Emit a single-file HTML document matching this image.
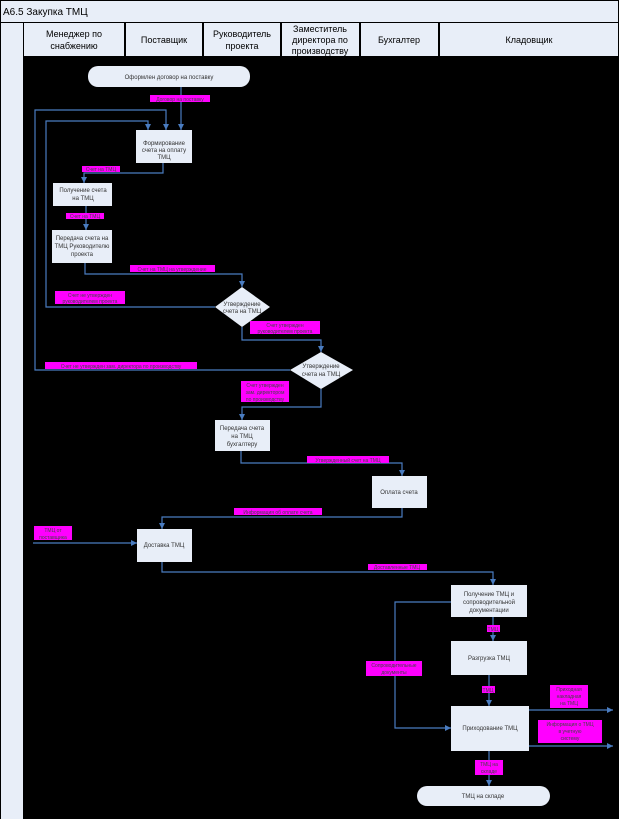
<!DOCTYPE html>
<html><head><meta charset="utf-8"><style>
body{margin:0;width:619px;height:819px;background:#000;overflow:hidden;font-family:"Liberation Sans",sans-serif;}
svg{display:block}
</style></head><body>
<svg width="619" height="819" xmlns="http://www.w3.org/2000/svg" font-family="Liberation Sans, sans-serif">
<defs><marker id="a" markerWidth="6" markerHeight="6" refX="5" refY="3" orient="auto"><path d="M0,0.5 L5,3 L0,5.5z" fill="#4a7cc0"/></marker></defs>
<rect x="0" y="0" width="619" height="819" fill="#000"/>
<rect x="1" y="1" width="617" height="21" fill="#e8eef8"/>
<text x="3" y="15" font-size="10" fill="#000">A6.5 Закупка ТМЦ</text>
<rect x="1" y="23" width="22" height="796" fill="#e8eef8"/>
<g fill="#e8eef8">
<rect x="24" y="23" width="100" height="33"/><rect x="126" y="23" width="76" height="33"/>
<rect x="204" y="23" width="76" height="33"/><rect x="282" y="23" width="77" height="33"/>
<rect x="361" y="23" width="77" height="33"/><rect x="440" y="23" width="178" height="33"/>
</g>
<g font-size="9" fill="#000" text-anchor="middle">
<text x="74" y="37">Менеджер по</text><text x="74" y="49">снабжению</text>
<text x="164" y="43">Поставщик</text>
<text x="242" y="37">Руководитель</text><text x="242" y="49">проекта</text>
<text x="320" y="32">Заместитель</text><text x="320" y="43">директора по</text><text x="320" y="54">производству</text>
<text x="399" y="43">Бухгалтер</text>
<text x="529" y="43">Кладовщик</text>
</g>
<g fill="#e8eef8">
<rect x="88" y="66" width="162" height="21" rx="10"/>
<rect x="136" y="130" width="56" height="33"/>
<rect x="53" y="183" width="59" height="23"/>
<rect x="52" y="230" width="60" height="33"/>
<polygon points="242,287 270,307 242,327 215,307"/>
<polygon points="321,352 353,370 321,389 290,370"/>
<rect x="215" y="420" width="55" height="31"/>
<rect x="372" y="476" width="55" height="32"/>
<rect x="137" y="529" width="55" height="33"/>
<rect x="451" y="585" width="76" height="32"/>
<rect x="451" y="641" width="76" height="34"/>
<rect x="451" y="706" width="78" height="45"/>
<rect x="417" y="786" width="133" height="20" rx="10"/>
</g>
<g fill="none" stroke="#4a7cc0" stroke-width="1.2" marker-end="url(#a)">
<path d="M181,87 V130"/>
<path d="M215,307 H46 V121 H148 V130"/>
<path d="M290,370 H35 V110 H166 V130"/>
<path d="M163,163 V173 H84 V183"/>
<path d="M86,206 V230"/>
<path d="M85,263 V274 H242 V287"/>
<path d="M242,327 V340 H321 V352"/>
<path d="M321,389 V407 H242 V420"/>
<path d="M241,451 V463 H402 V476"/>
<path d="M402,508 V517 H162 V529"/>
<path d="M33,543 H137"/>
<path d="M162,562 V572 H493 V585"/>
<path d="M493,617 V641"/>
<path d="M489,675 V706"/>
<path d="M451,602 H395 V728 H451"/>
<path d="M529,710 H613"/>
<path d="M529,746 H613"/>
<path d="M489,751 V786"/>
</g>
<g font-size="6" fill="#333" text-anchor="middle">
<text x="169" y="79">Оформлен договор на поставку</text>
<text x="164" y="145">Формирование</text><text x="164" y="152">счета на оплату</text><text x="164" y="159">ТМЦ</text>
<text x="83" y="192">Получение счета</text><text x="83" y="200">на ТМЦ</text>
<text x="82" y="240">Передача счета на</text><text x="82" y="248">ТМЦ Руководителю</text><text x="82" y="256">проекта</text>
<text x="242" y="306">Утверждение</text><text x="242" y="313">счета на ТМЦ</text>
<text x="321" y="368">Утверждение</text><text x="321" y="376">счета на ТМЦ</text>
<text x="242" y="430">Передача счета</text><text x="242" y="438">на ТМЦ</text><text x="242" y="446">бухгалтеру</text>
<text x="399" y="494">Оплата счета</text>
<text x="164" y="547">Доставка ТМЦ</text>
<text x="489" y="596">Получение ТМЦ и</text><text x="489" y="604">сопроводительной</text><text x="489" y="612">документации</text>
<text x="489" y="660">Разгрузка ТМЦ</text>
<text x="490" y="730">Приходование ТМЦ</text>
<text x="483" y="798">ТМЦ на складе</text>
</g>
<g fill="#ff00ff">
<rect x="150" y="95" width="60" height="7"/>
<rect x="82" y="166" width="38" height="6"/>
<rect x="66" y="213" width="38" height="6"/>
<rect x="130" y="265" width="85" height="7"/>
<rect x="55" y="291" width="70" height="13"/>
<rect x="250" y="321" width="70" height="13"/>
<rect x="45" y="362" width="152" height="7"/>
<rect x="241" y="381" width="48" height="21"/>
<rect x="307" y="456" width="82" height="7"/>
<rect x="234" y="508" width="88" height="7"/>
<rect x="34" y="526" width="38" height="14"/>
<rect x="368" y="564" width="59" height="6"/>
<rect x="487" y="625" width="13" height="7"/>
<rect x="482" y="686" width="13" height="7"/>
<rect x="366" y="661" width="56" height="15"/>
<rect x="550" y="685" width="38" height="23"/>
<rect x="538" y="720" width="64" height="23"/>
<rect x="475" y="760" width="28" height="15"/>
</g>
<g font-size="5" fill="#444" text-anchor="middle">
<text x="180" y="101">Договор на поставку</text>
<text x="101" y="171">Счет на ТМЦ</text>
<text x="85" y="218">Счет на ТМЦ</text>
<text x="172" y="271">Счет на ТМЦ на утверждение</text>
<text x="90" y="297">Счет не утвержден</text><text x="90" y="303">руководителем проекта</text>
<text x="285" y="327">Счет утвержден</text><text x="285" y="333">руководителем проекта</text>
<text x="121" y="368">Счет не утвержден зам. директора по производству</text>
<text x="265" y="387">Счет утвержден</text><text x="265" y="394">зам. директором</text><text x="265" y="401">по производству</text>
<text x="348" y="462">Утвержденный счет на ТМЦ</text>
<text x="278" y="514">Информация об оплате счета</text>
<text x="53" y="532">ТМЦ от</text><text x="53" y="539">поставщика</text>
<text x="397" y="569">Доставленные ТМЦ</text>
<text x="493" y="631">ТМЦ</text>
<text x="488" y="692">ТМЦ</text>
<text x="394" y="667">Сопроводительные</text><text x="394" y="674">документы</text>
<text x="569" y="691">Приходная</text><text x="569" y="698">накладная</text><text x="569" y="705">на ТМЦ</text>
<text x="570" y="726">Информация о ТМЦ</text><text x="570" y="733">в учетную</text><text x="570" y="740">систему</text>
<text x="489" y="766">ТМЦ на</text><text x="489" y="773">складе</text>
</g>
</svg>
</body></html>
